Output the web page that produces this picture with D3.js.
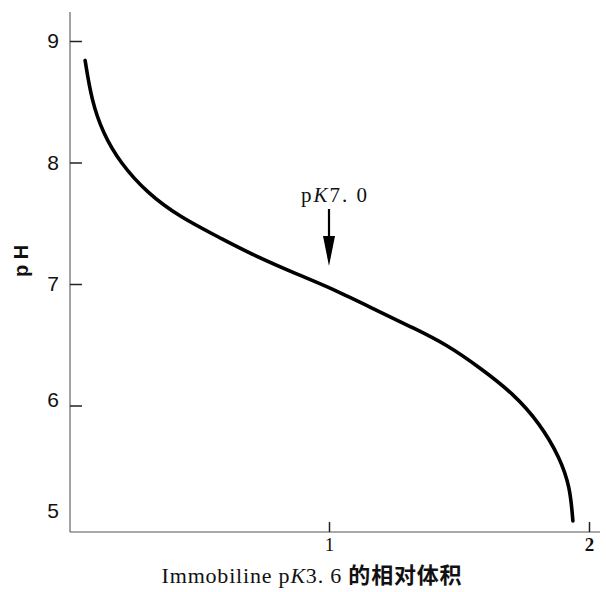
<!DOCTYPE html>
<html>
<head>
<meta charset="utf-8">
<script src="https://cdn.jsdelivr.net/npm/d3@7"></script>
<style>
  body { margin: 0; background: #fff; }
  svg { display: block; }
  .serif { font-family: "Liberation Serif", "DejaVu Serif", serif; }
  .cjk { font-family: "Noto Sans CJK SC", sans-serif; font-weight: 700; }
</style>
</head>
<body>
<svg id="chart"></svg>
<script>
// data
var volume = [0.062, 0.087, 0.131, 0.196, 0.300, 0.427, 0.581, 0.696, 0.888, 1.004,
              1.196, 1.323, 1.454, 1.581, 1.708, 1.812, 1.888, 1.927, 1.938];
var pH     = [8.84, 8.51, 8.24, 8.00, 7.75, 7.55, 7.38, 7.25, 7.07, 6.97,
              6.77, 6.64, 6.50, 6.31, 6.10, 5.85, 5.57, 5.33, 5.05];
var yTicks = [5, 6, 7, 8, 9];
var xTicks = [1, 2];
var pkMark = 1.0;   // where the pK7.0 arrow points

var width = 606, height = 592;

var svg = d3.select("#chart")
  .attr("width", width)
  .attr("height", height);

var x = d3.scaleLinear().domain([0, 2]).range([69, 589]);
var y = d3.scaleLinear().domain([5, 9]).range([527, 41]);

// axis lines
svg.append("line")
  .attr("x1", 70).attr("x2", 70)
  .attr("y1", 12).attr("y2", 532)
  .attr("stroke", "#666").attr("stroke-width", 1.2);
svg.append("line")
  .attr("x1", 70).attr("x2", 600)
  .attr("y1", 532).attr("y2", 532)
  .attr("stroke", "#555").attr("stroke-width", 1.2);

// y ticks (inside) and labels
var yTickG = svg.append("g")
  .attr("transform", "translate(70,0)")
  .call(d3.axisRight(y).tickValues([6, 7, 8, 9]).tickSize(12).tickFormat(""));
yTickG.select(".domain").remove();
yTickG.selectAll("line").attr("stroke", "#222").attr("stroke-width", 1.5);

var yLab = svg.append("g")
  .attr("transform", "translate(59,0)")
  .call(d3.axisLeft(y).tickValues(yTicks).tickSize(0).tickPadding(0).tickFormat(d3.format("d")));
yLab.select(".domain").remove();
yLab.selectAll("text")
  .attr("font-family", "Liberation Sans, Arial, sans-serif")
  .attr("font-size", 21)
  .attr("fill", "#111")
  .attr("dy", function(d) { return d == 5 ? "-0.45em" : d == 6 ? "0.05em" : "0.32em"; });

// x ticks (inside) and labels
var xTickG = svg.append("g")
  .attr("transform", "translate(0,532)")
  .call(d3.axisTop(x).tickValues(xTicks).tickSize(10).tickFormat(""));
xTickG.select(".domain").remove();
xTickG.selectAll("line").attr("stroke", "#222").attr("stroke-width", 1.5);

var xLab = svg.append("g")
  .attr("transform", "translate(0,537)")
  .call(d3.axisBottom(x).tickValues(xTicks).tickSize(0).tickPadding(0).tickFormat(d3.format("d")));
xLab.select(".domain").remove();
xLab.selectAll("text")
  .attr("class", "serif")
  .attr("font-size", 19)
  .attr("font-weight", function(d) { return d == 2 ? 700 : 400; })
  .attr("fill", "#111");

// curve
var line = d3.line()
  .x(function(d, i) { return x(volume[i]); })
  .y(function(d) { return y(d); })
  .curve(d3.curveBasis);

svg.append("path")
  .datum(pH)
  .attr("d", line)
  .attr("fill", "none")
  .attr("stroke", "#000")
  .attr("stroke-width", 3.6)
  .attr("stroke-linecap", "round");

// pK7.0 annotation with arrow
var ax = x(pkMark);
svg.append("text")
  .attr("class", "serif")
  .attr("x", ax + 6).attr("y", 202)
  .attr("text-anchor", "middle")
  .attr("font-size", 21)
  .attr("letter-spacing", 2)
  .attr("fill", "#111")
  .html('p<tspan font-style="italic">K</tspan>7. 0');

svg.append("line")
  .attr("x1", ax).attr("x2", ax)
  .attr("y1", 209).attr("y2", 240)
  .attr("stroke", "#000").attr("stroke-width", 2.2);
svg.append("path")
  .attr("d", "M" + (ax - 6) + ",236L" + (ax + 6) + ",236L" + ax + ",266Z")
  .attr("fill", "#000");

// axis titles
svg.append("text")
  .attr("transform", "translate(28,261) rotate(-90)")
  .attr("text-anchor", "middle")
  .attr("font-family", "Liberation Sans, Arial, sans-serif")
  .attr("font-size", 20)
  .attr("font-weight", 700)
  .attr("fill", "#111")
  .text("p H");

var title = svg.append("text")
  .attr("x", 312).attr("y", 583)
  .attr("text-anchor", "middle")
  .attr("font-size", 22)
  .attr("letter-spacing", 0.8)
  .attr("fill", "#111");
title.append("tspan").attr("class", "serif").text("Immobiline p");
title.append("tspan").attr("class", "serif").attr("font-style", "italic").text("K");
title.append("tspan").attr("class", "serif").text("3. 6 ");
title.append("tspan").attr("class", "cjk").attr("font-size", 22).text("的相对体积");
</script>
</body>
</html>
